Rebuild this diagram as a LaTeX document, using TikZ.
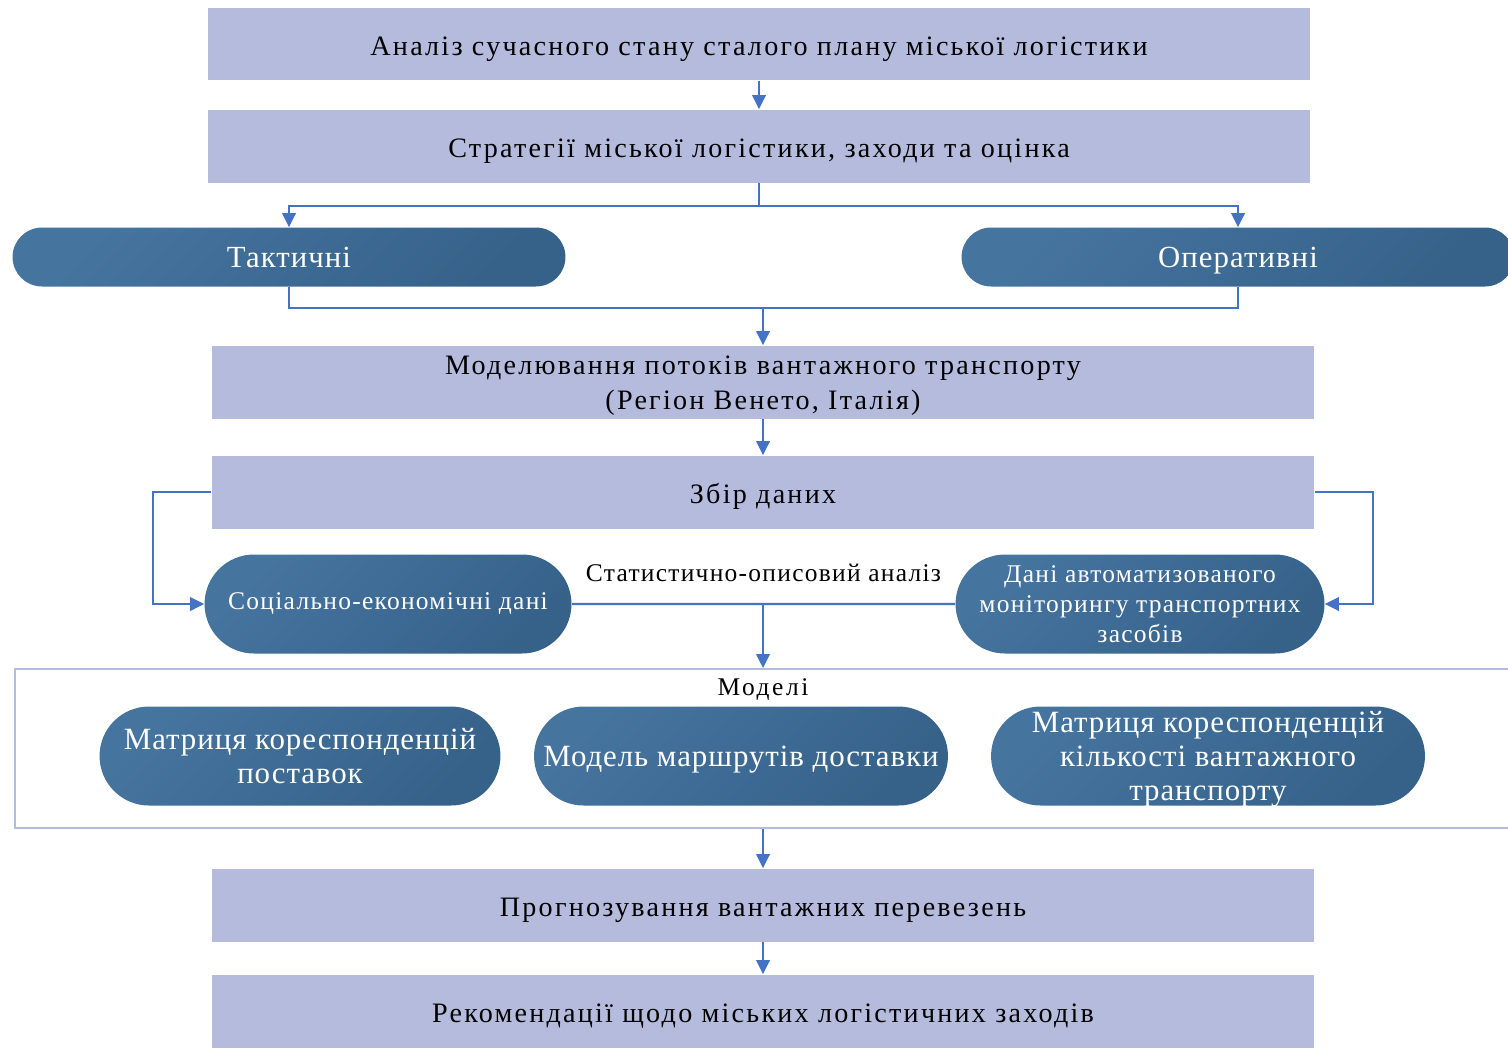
\documentclass[tikz,border=0pt]{standalone}
\usepackage{fontspec}
\setmainfont{Liberation Serif}
\usetikzlibrary{arrows.meta,shapes.misc}
\definecolor{boxblue}{HTML}{B4BBDC}
\definecolor{linkblue}{HTML}{4472C4}
\definecolor{pilllight}{HTML}{45749F}
\definecolor{pilldark}{HTML}{36628A}
\begin{document}
\begin{tikzpicture}[x=0.02cm,y=-0.02cm,
    stage/.style={fill=boxblue,minimum width=22.06cm,minimum height=1.46cm,inner sep=0pt,align=center,
      font=\fontsize{16}{19.8}\selectfont\addfontfeatures{LetterSpace=8}},
    stageline/.style={stage,text height=13pt,text depth=0pt},
    pill/.style={rounded rectangle,top color=pilllight,bottom color=pilldark,shading angle=45,
      text=white,inner sep=0pt,align=center},
    smalltext/.style={font=\fontsize{14.5}{17}\selectfont\addfontfeatures{LetterSpace=5}},
    bigtext/.style={font=\fontsize{17.6}{19.6}\selectfont\addfontfeatures{LetterSpace=3}},
    link/.style={draw=linkblue,line width=1.2pt},
    arrow/.style={link,-{Triangle[length=0.28cm,width=0.27cm]}}]
  \useasboundingbox (0,0) rectangle (1508,1049);
  % stages
  \node[stageline] (analysis) at (759,44) {Аналіз сучасного стану сталого плану міської логістики};
  \node[stageline] (strategy) at (759,146) {Стратегії міської логістики, заходи та оцінка};
  \node[stage,text height=32pt,text depth=1.2pt] (modelling) at (763,382)
    {Моделювання потоків вантажного транспорту\\(Регіон Венето, Італія)};
  \node[stageline] (collect) at (763,492) {Збір даних};
  \node[stageline] (forecast) at (763,905) {Прогнозування вантажних перевезень};
  \node[stageline] (advice) at (763,1011) {Рекомендації щодо міських логістичних заходів};
  % tactical / operational
  \node[pill,minimum width=11.06cm,minimum height=1.18cm,text height=11.8pt,text depth=0pt,
    font=\fontsize{17.5}{20}\selectfont\addfontfeatures{LetterSpace=3.5}] (tactical) at (289,257) {Тактичні};
  \node[pill,minimum width=11.06cm,minimum height=1.18cm,text height=11.8pt,text depth=0pt,
    font=\fontsize{17.5}{20}\selectfont\addfontfeatures{LetterSpace=3.5}] (operative) at (1238,257) {Оперативні};
  % data sources
  \node[pill,smalltext,minimum width=7.34cm,minimum height=1.98cm]
    (social) at (388,604) {Соціально-економічні дані};
  \node[pill,smalltext,minimum width=7.38cm,minimum height=1.98cm]
    (monitor) at (1140,604) {Дані автоматизованого\\моніторингу транспортних\\засобів};
  % models
  \node[draw=boxblue,line width=1.1pt,minimum width=29.92cm,minimum height=3.18cm,inner sep=0pt]
    (models) at (763,748.5) {};
  \node[font=\fontsize{14.5}{17}\selectfont\addfontfeatures{LetterSpace=10}] (modelstitle) at (763,690) {Моделі};
  \node[pill,bigtext,minimum width=8.02cm,minimum height=1.98cm]
    (supply) at (300,756) {Матриця кореспонденцій\\поставок};
  \node[pill,bigtext,minimum width=8.28cm,minimum height=1.98cm,text height=12.5pt,text depth=0pt]
    (routes) at (741,756) {Модель маршрутів доставки};
  \node[pill,bigtext,minimum width=8.68cm,minimum height=1.98cm,text height=53pt,text depth=1.8pt]
    (freight) at (1208,756) {Матриця кореспонденцій\\кількості вантажного\\транспорту};
  % connectors
  \coordinate (fork) at (759,206);
  \coordinate (merge) at (763,308);
  \coordinate (mid) at (763,604);
  \draw[arrow] (analysis) -- (strategy);
  \draw[arrow] (strategy) -- (fork) -| (tactical);
  \draw[arrow] (fork) -| (operative);
  \draw[link] (tactical) |- (merge) -| (operative);
  \draw[arrow] (merge) -- (modelling);
  \draw[arrow] (modelling) -- (collect);
  \draw[arrow] (collect.west) -- ++(-58,0) |- (social);
  \draw[arrow] (collect.east) -- ++(58,0) |- (monitor);
  \draw[link] (social) -- node[above=9pt,smalltext] (stats) {Статистично-описовий аналіз} (monitor);
  \draw[arrow] (mid) -- (models);
  \draw[arrow] (models) -- (forecast);
  \draw[arrow] (forecast) -- (advice);
\end{tikzpicture}
\end{document}
